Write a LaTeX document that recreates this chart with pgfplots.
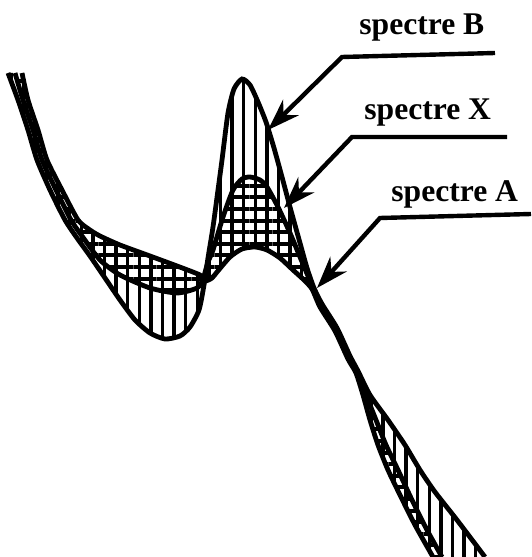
\documentclass[border=0pt]{standalone}
\usepackage{fontspec}
\setmainfont{Liberation Serif}
\usepackage{pgfplots}
\pgfplotsset{compat=1.18}
\usepgfplotslibrary{fillbetween}
\usetikzlibrary{patterns.meta, arrows.meta}

\begin{document}
\begin{tikzpicture}
\begin{axis}[
  hide axis, scale only axis,
  width=265.5pt, height=278.5pt,
  xmin=0, xmax=531, ymin=0, ymax=557,
  y dir=reverse,
  clip bounding box=upper bound,
]
% spectre B
\addplot[name path=B, black, line width=2.4pt, smooth, tension=0.4] coordinates {
  (8,73) (18,100) (28,130) (37,160) (50,190) (65,220) (77,238) (90,256)
  (105,278) (120,300) (135,320) (150,333) (165,339) (180,336) (190,327)
  (199,310) (204,285) (208,258) (213,227) (218,190) (222,160) (228,113)
  (234,89) (242,79) (250,85) (258,102) (266,122) (274,148) (282,177)
  (290,207) (300,243) (307,268) (314,288) (322,304) (337,328) (350,356)
  (358,371) (370,395) (388,420) (405,445) (420,470) (435,492) (457,520)
  (485,557)
};
% spectre X
\addplot[name path=X, black, line width=2.4pt, smooth, tension=0.4] coordinates {
  (15,73) (23,100) (33,130) (42,160) (56,190) (71,220) (82,236) (100,260)
  (120,275) (150,288) (177,293) (197,288) (203,279) (208,262) (213,250)
  (223,217) (233,190) (242,179) (250,177) (260,180) (267,187) (278,207)
  (290,233) (300,257) (308,276) (313,288) (321,306) (336,330) (349,358)
  (357,372) (366,395) (376,420) (386,445) (398,470) (412,500) (427,530)
  (442,557)
};
% spectre A
\addplot[name path=A, black, line width=2.4pt, smooth, tension=0.4] coordinates {
  (22,73) (28,100) (38,130) (47,160) (62,190) (78,220) (90,230) (100,236)
  (120,245) (150,256) (177,266) (200,275) (205,281) (212,278) (217,272)
  (230,257) (242,249) (255,247) (267,250) (280,258) (293,270) (304,280)
  (312,289) (320,307) (335,331) (348,359) (356,373) (363,395) (370,420)
  (378,445) (388,470) (400,495) (415,525) (433,557)
};

% hatching: vertical between A and B, horizontal between A and X
\addplot[draw=none, pattern={Lines[angle=90, distance=5.8pt, line width=1.7pt]}]
  fill between[of=A and B];
\addplot[draw=none, pattern={Lines[angle=0, distance=5.8pt, line width=2pt]}]
  fill between[of=A and X];

% labels and leaders
\node[anchor=base west, inner sep=0pt, font=\bfseries\fontsize{15.8}{18}\selectfont]
  at (axis cs:359,35) {spectre B};
\node[anchor=base west, inner sep=0pt, font=\bfseries\fontsize{15.8}{18}\selectfont]
  at (axis cs:364,120) {spectre X};
\node[anchor=base west, inner sep=0pt, font=\bfseries\fontsize{15.8}{18}\selectfont]
  at (axis cs:391,202) {spectre A};

\draw[line width=2.2pt, line join=miter, -{Stealth[length=16pt, width=11pt]}]
  (axis cs:495,53) -- (axis cs:342,57) -- (axis cs:268,130);
\draw[line width=2.2pt, line join=miter, -{Stealth[length=16pt, width=11pt]}]
  (axis cs:507,137) -- (axis cs:352,137) -- (axis cs:284,208);
\draw[line width=2.2pt, line join=miter, -{Stealth[length=16pt, width=11pt]}]
  (axis cs:531,214) -- (axis cs:380,218) -- (axis cs:317,288);
\end{axis}
\end{tikzpicture}
\end{document}
